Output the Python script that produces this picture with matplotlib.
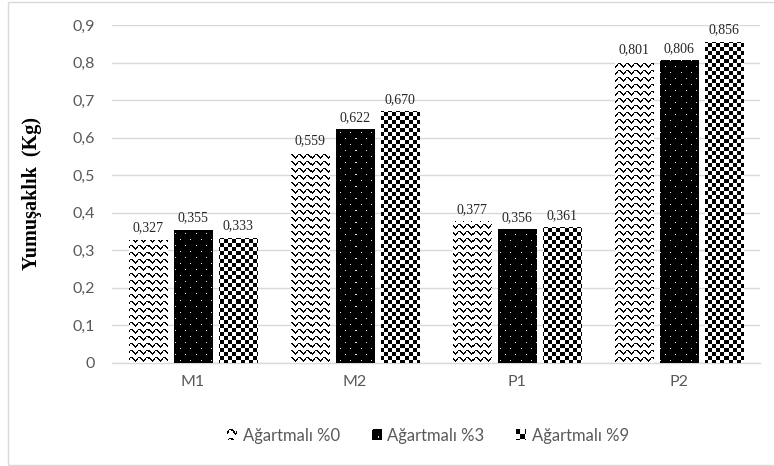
import numpy as np
import matplotlib
matplotlib.use('Agg')
import matplotlib.pyplot as plt
from matplotlib.patches import Rectangle
from matplotlib.legend_handler import HandlerBase
from matplotlib.image import BboxImage
from matplotlib.transforms import Bbox, TransformedBbox

categories = ['M1', 'M2', 'P1', 'P2']
series_names = ['Ağartmalı %0', 'Ağartmalı %3', 'Ağartmalı %9']
agartmali_0 = [0.327, 0.559, 0.377, 0.801]
agartmali_3 = [0.355, 0.622, 0.356, 0.806]
agartmali_9 = [0.333, 0.670, 0.361, 0.856]
y_ticks = [0, 0.1, 0.2, 0.3, 0.4, 0.5, 0.6, 0.7, 0.8, 0.9]

GRID = '#d9d9d9'
TXT = '#595959'
SANS = ['Lato', 'DejaVu Sans']
SERIF = ['Liberation Serif', 'DejaVu Serif']


# pixel patterns, row i counted from the top of the figure, col j from the left
WAVE = np.array([2, 1, 0, 0, 0, 1, 2, 3])


def wave(i, j):
    d = (i - WAVE[j % 8]) % 7
    return np.where((d == 0) | ((d == 1) & (WAVE[j % 8] != WAVE[(j + 1) % 8])), 0.0, 1.0)


def dots(i, j):
    on = ((i % 12 == 0) & (j % 10 == 0)) | ((i % 12 == 6) & (j % 10 == 5))
    return np.where(on, 0.9, 0.0)


def checker(i, j):
    return (((i // 4) + (j // 4)) % 2).astype(float)


patterns = [wave, dots, checker]


def pattern_array(func, row0, col0, h, w):
    i, j = np.mgrid[row0:row0 + h, col0:col0 + w]
    return func(i, j)


class PatternHandler(HandlerBase):
    def __init__(self, func):
        super().__init__()
        self.func = func

    def create_artists(self, legend, orig_handle, xdescent, ydescent,
                       width, height, fontsize, trans):
        bb = TransformedBbox(Bbox.from_bounds(-xdescent, -ydescent, width, height), trans)
        img = BboxImage(bb, cmap='gray', interpolation='nearest')
        img.set_clim(0, 1)
        img.set_data(pattern_array(self.func, 0, 0, 9, 9))
        return [img]


fig = plt.figure(figsize=(7.74, 4.66), dpi=100)
W, H = 774, 466
ax = fig.add_axes([112 / W, 1 - 363 / H, 648 / W, 338 / H])

# outer chart border
fig.patches.append(Rectangle((8 / W, 1 / H), 1.0, 1 - 3 / H, transform=fig.transFigure,
                             fill=False, edgecolor='#d9d9d9', linewidth=1.0))

x = np.arange(len(categories))
bw = 0.235
step = 0.278
all_series = [agartmali_0, agartmali_3, agartmali_9]

ax.set_xlim(-0.5, len(categories) - 0.5)
ax.set_ylim(0, 0.9)

bar_groups = []
for k, vals in enumerate(all_series):
    bars = ax.bar(x + (k - 1) * step, vals, width=bw, color='white',
                  edgecolor='none', zorder=2)
    bar_groups.append(bars)

fig.canvas.draw()
for k, bars in enumerate(bar_groups):
    for b in bars:
        x0, y0 = b.get_x(), b.get_y()
        x1, y1 = x0 + b.get_width(), y0 + b.get_height()
        (px0, py0), (px1, py1) = ax.transData.transform([(x0, y0), (x1, y1)])
        w = max(int(round(px1 - px0)), 1)
        h = max(int(round(py1 - py0)), 1)
        row0 = int(round(H - py1))
        col0 = int(round(px0))
        arr = pattern_array(patterns[k], row0, col0, h, w)
        im = ax.imshow(arr, extent=[x0, x1, y0, y1], cmap='gray', vmin=0, vmax=1,
                       interpolation='nearest', aspect='auto', zorder=3)
        im.set_clip_path(b)

for k, (bars, vals) in enumerate(zip(bar_groups, all_series)):
    for b, v in zip(bars, vals):
        ax.annotate(f'{v:.3f}'.replace('.', ','), (b.get_x() + b.get_width() / 2, v),
                    xytext=(0, 4), textcoords='offset points', ha='center', va='bottom',
                    fontsize=10, family=SERIF, color='#262626', zorder=4)

ax.set_xticks(x)
ax.set_xticklabels(categories, fontsize=11.5, family=SANS, color=TXT)
ax.set_yticks(y_ticks)
ax.set_yticklabels(['0' if t == 0 else f'{t:.1f}'.replace('.', ',') for t in y_ticks],
                   fontsize=11.5, family=SANS, color=TXT)
ax.tick_params(length=0)
ax.tick_params(axis='y', pad=12)
ax.tick_params(axis='x', pad=9)
ax.grid(axis='y', color=GRID, linewidth=1.0, zorder=0)
ax.set_axisbelow(True)
for s in ['top', 'right', 'left']:
    ax.spines[s].set_visible(False)
ax.spines['bottom'].set_color(GRID)
ax.spines['bottom'].set_linewidth(1.0)

ax.set_ylabel('Yumuşaklık  (Kg)', fontsize=14.5, fontweight='bold', family=SERIF, color='black')
ax.yaxis.set_label_coords(-70 / 648, 0.5)

handles = [Rectangle((0, 0), 1, 1) for _ in series_names]
fig.legend(handles, series_names, loc='center', bbox_to_anchor=(428 / W, 1 - 436 / H),
           ncol=3, frameon=False, handlelength=0.6, handleheight=0.6, handletextpad=0.35,
           columnspacing=1.9, prop={'family': SANS, 'size': 12},
           handler_map={h: PatternHandler(f) for h, f in zip(handles, patterns)},
           labelcolor=TXT)

fig.savefig('out.png', dpi=100)
